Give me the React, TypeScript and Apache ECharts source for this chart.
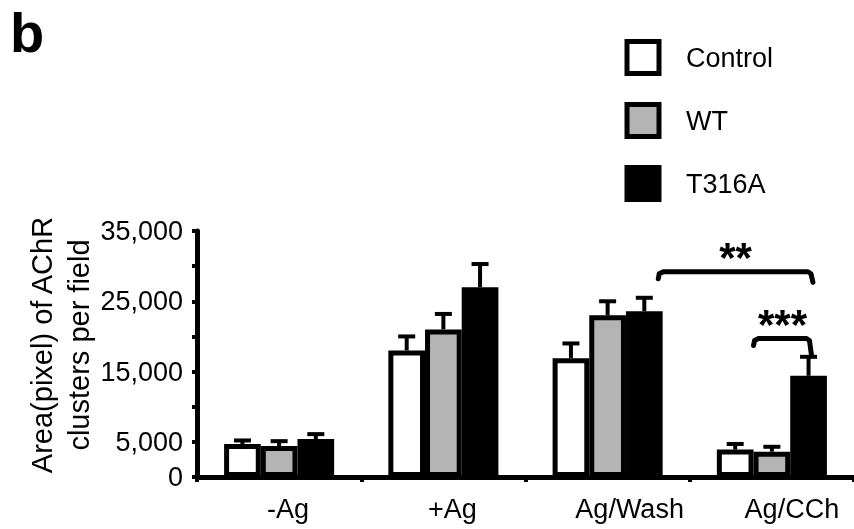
import React, { useEffect, useRef } from 'react';
import * as echarts from 'echarts';

const categories = ['-Ag', '+Ag', 'Ag/Wash', 'Ag/CCh'];
const seriesNames = ['Control', 'WT', 'T316A'];
const controlMean = [4700, 18000, 16900, 3900];
const controlUpper = [5200, 20000, 19000, 4700];
const wtMean = [4400, 21000, 23000, 3600];
const wtUpper = [5100, 23200, 25000, 4300];
const t316aMean = [5400, 27000, 23600, 14400];
const t316aUpper = [6100, 30300, 25500, 17100];
const yTickLabels = [0, 5000, 15000, 25000, 35000];
const brackets = [
  { label: '**', fromCat: 2, fromBar: 2.38, toCat: 3, toBar: 2.12, level: 29200, endLevel: 27700 },
  { label: '***', fromCat: 3, fromBar: 0.5, toCat: 3, toBar: 2.08, level: 19700, endLevel: 17300 },
];
const labelShift = [18, 18, 44, 40];

const FONT = '"Liberation Sans", Arial, Helvetica, sans-serif';
const colors = ['#ffffff', '#b4b4b4', '#000000'];
const GAP = 0.33;

export default function App() {
  const ref = useRef<HTMLDivElement>(null);
  useEffect(() => {
    const chart = echarts.init(ref.current!, null, { renderer: 'svg' });
    const means = [controlMean, wtMean, t316aMean];
    const uppers = [controlUpper, wtUpper, t316aUpper];
    const errData: number[][] = [];
    means.forEach((m, si) => m.forEach((v, ci) => errData.push([ci, si, v, uppers[si][ci]])));

    const renderErr = (params: any, api: any) => {
      const cat = api.value(0);
      const idx = api.value(1);
      const catW = api.size([1, 0])[0];
      const bw = (catW * (1 - GAP)) / 3;
      const base = api.coord([cat, api.value(2)]);
      const top = api.coord([cat, api.value(3)]);
      const x = base[0] + (idx - 1) * bw;
      return {
        type: 'group',
        children: [
          { type: 'line', shape: { x1: x, y1: base[1], x2: x, y2: top[1] }, style: { stroke: '#000', lineWidth: 4 } },
          { type: 'line', shape: { x1: x - 8.5, y1: top[1], x2: x + 8.5, y2: top[1] }, style: { stroke: '#000', lineWidth: 4 } },
        ],
      };
    };

    const renderBracket = (params: any, api: any) => {
      const b = brackets[params.dataIndex];
      const catW = api.size([1, 0])[0];
      const bw = (catW * (1 - GAP)) / 3;
      const p1 = api.coord([b.fromCat, b.level]);
      const p2 = api.coord([b.toCat, b.level]);
      const pe = api.coord([b.toCat, b.endLevel]);
      const x1 = p1[0] + (b.fromBar - 1) * bw;
      const x2 = p2[0] + (b.toBar - 1) * bw;
      const y = p1[1];
      return {
        type: 'group',
        children: [
          {
            type: 'polyline',
            shape: { points: [[x1, y + 7], [x1 + 1, y + 2], [x1 + 5, y], [x2 - 5, y], [x2 - 2, y + 2], [x2, pe[1]]] },
            style: { stroke: '#000', lineWidth: 5, fill: 'none', lineJoin: 'round', lineCap: 'round' },
          },
          {
            type: 'text',
            style: { text: b.label, x: (x1 + x2) / 2, y: y - 14, align: 'center', verticalAlign: 'middle', fontSize: 42, fontWeight: 'bold', fill: '#000', fontFamily: FONT },
          },
        ],
      };
    };

    const barSeries = seriesNames.map((name, i) => ({
      name,
      type: 'bar',
      data: means[i],
      barGap: '0%',
      barCategoryGap: GAP * 100 + '%',
      itemStyle: { color: colors[i], borderColor: '#000', borderWidth: 5 },
      z: 2,
    }));

    chart.setOption({
      animation: false,
      textStyle: { fontFamily: FONT, color: '#000' },
      graphic: [
        { type: 'text', left: 10, top: 4, style: { text: 'b', fontSize: 56, lineHeight: 48, fontWeight: 'bold', fill: '#000', fontFamily: FONT } },
      ],
      legend: {
        data: seriesNames,
        orient: 'vertical',
        left: 624.5,
        top: 39,
        padding: 0,
        icon: 'rect',
        itemWidth: 32,
        itemHeight: 32,
        itemGap: 26,
        itemStyle: { borderWidth: 5, borderColor: '#000' },
        textStyle: { fontSize: 27, color: '#000', fontFamily: FONT, padding: [0, 0, 0, 22] },
        selectedMode: false,
      },
      grid: { left: 197, right: -5, top: 231, bottom: 52 },
      xAxis: {
        type: 'category',
        data: categories.map((c, i) => ({ value: c, textStyle: { padding: [0, 0, 0, labelShift[i]] } })),
        axisLine: { lineStyle: { color: '#000', width: 5 } },
        axisTick: { show: true, length: 5, lineStyle: { color: '#000', width: 4 } },
        axisLabel: { fontSize: 27, color: '#000', margin: 18, fontFamily: FONT },
      },
      yAxis: {
        type: 'value',
        min: 0,
        max: 35000,
        interval: 5000,
        name: 'Area(pixel) of AChR\nclusters per field',
        nameLocation: 'middle',
        nameRotate: 90,
        nameGap: 100,
        nameMoveOverlap: false,
        nameTextStyle: { fontSize: 29, lineHeight: 37, color: '#000', fontFamily: FONT, padding: [0, 0, 0, 18] },
        axisLine: { show: true, lineStyle: { color: '#000', width: 5 } },
        axisTick: { show: true, length: 5, lineStyle: { color: '#000', width: 4 } },
        splitLine: { show: false },
        axisLabel: {
          fontSize: 27,
          color: '#000',
          margin: 14,
          fontFamily: FONT,
          formatter: (v: number) => (yTickLabels.includes(v) ? v.toLocaleString('en-US') : ''),
        },
      },
      series: [
        ...barSeries,
        { type: 'custom', renderItem: renderErr, data: errData, encode: { x: 0, y: 3 }, z: 1, clip: false },
        { type: 'custom', renderItem: renderBracket, data: brackets.map((b) => [b.fromCat, b.level]), encode: { x: 0, y: 1 }, z: 3, clip: false },
      ],
    });
    return () => chart.dispose();
  }, []);
  return <div ref={ref} style={{ position: 'fixed', left: 0, top: 0, width: 854, height: 529 }} />;
}
